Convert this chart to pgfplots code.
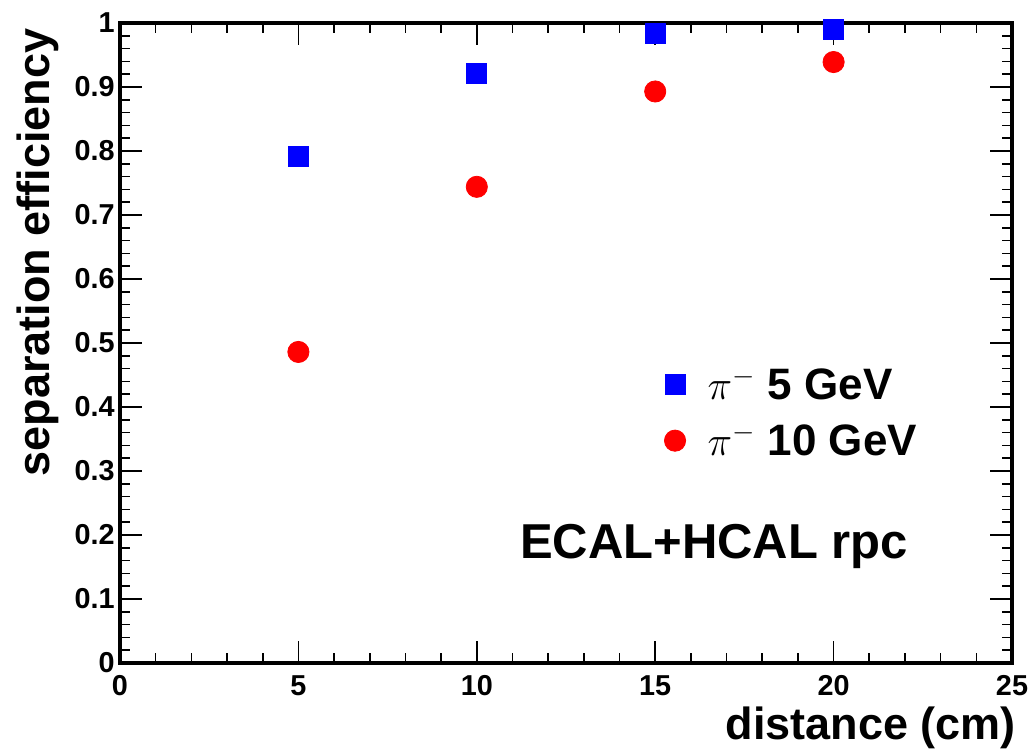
\documentclass[border=0pt]{standalone}
\usepackage{fontspec}
\setmainfont{Liberation Sans}
\usepackage{pgfplots}
\pgfplotsset{compat=1.18}
\begin{document}
\begin{tikzpicture}
\useasboundingbox (-60pt,-45pt) rectangle (454.5pt,331.5pt);
\begin{axis}[
  at={(0,0)}, anchor=south west,
  scale only axis, width=446pt, height=320pt,
  xmin=0, xmax=25, ymin=0, ymax=1,
  xtick={0,5,10,15,20,25},
  minor x tick num=4,
  ytick={0,0.1,0.2,0.3,0.4,0.5,0.6,0.7,0.8,0.9,1},
  yticklabels={0,0.1,0.2,0.3,0.4,0.5,0.6,0.7,0.8,0.9,1},
  minor y tick num=4,
  tick align=inside,
  xtick pos=both, ytick pos=both,
  axis line style={line width=2pt},
  tick style={line width=0.8pt, black},
  major tick length=11pt, minor tick length=5pt,
  /pgf/number format/assume math mode=true,
  ticklabel style={font=\bfseries\fontsize{14.4}{16}\selectfont},
  yticklabel style={anchor=east, inner sep=0pt, xshift=-2.5pt},
  xticklabel style={anchor=north, inner sep=0pt, yshift=-6pt},
  xlabel={distance (cm)},
  ylabel={separation efficiency},
  label style={font=\bfseries\fontsize{22.5}{26}\selectfont},
  xlabel style={at={(rel axis cs:1.0045,-0.1203)}, anchor=base east, inner sep=0pt},
  ylabel style={at={(rel axis cs:-0.0785,0.992)}, anchor=base east, inner sep=0pt, rotate=0},
  legend style={at={(axis cs:15.08,0.475)}, anchor=north west, draw=none, fill=none,
    font=\bfseries\fontsize{22}{25}\selectfont, row sep=6.5pt, column sep=9pt},
  legend cell align=left,
  clip=false,
]
\addplot[only marks, mark=square*, mark size=5pt, color=blue, mark options={draw=blue, fill=blue}]
  coordinates {(5,0.791) (10,0.922) (15,0.983) (20,0.990)};
\addlegendentry{$\pi^{-}$ 5 GeV}
\addplot[only marks, mark=*, mark size=5.3pt, color=red, mark options={draw=red, fill=red}]
  coordinates {(5,0.486) (10,0.744) (15,0.893) (20,0.939)};
\addlegendentry{$\pi^{-}$ 10 GeV}
\node[anchor=base east, inner sep=0pt, font=\bfseries\fontsize{24.5}{28}\selectfont]
  at (axis cs:22.1,0.1625) {ECAL+HCAL rpc};
\end{axis}
\end{tikzpicture}
\end{document}
